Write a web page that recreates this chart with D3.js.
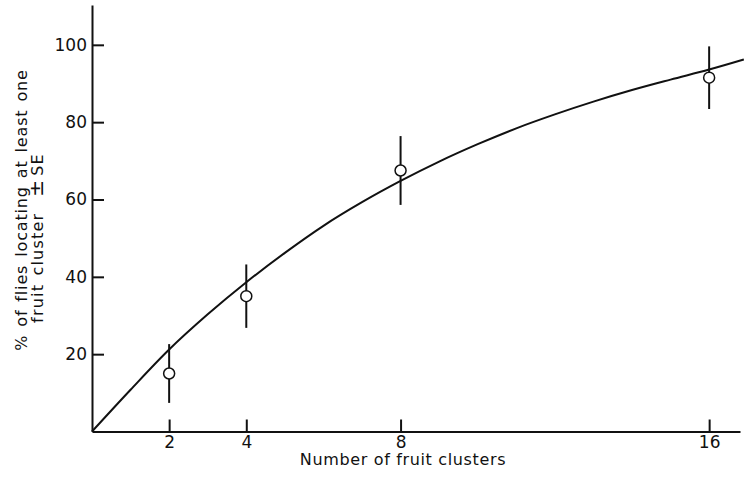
<!DOCTYPE html>
<html>
<head>
<meta charset="utf-8">
<script src="https://cdn.jsdelivr.net/npm/d3@7"></script>
<style>
  html, body { margin: 0; padding: 0; background: #fff; }
  svg { display: block; font-family: "DejaVu Sans", "Liberation Sans", Arial, sans-serif; }
  .axis text { font-size: 17px; fill: #111; font-family: "DejaVu Sans", sans-serif; }
  .axis path, .axis line { stroke: #111; stroke-width: 2; }
</style>
</head>
<body>
<svg id="chart" width="744" height="477"></svg>
<script>
// Number of fruit clusters offered and the mean % of flies finding one (± SE)
const clusters = [2, 4, 8, 16];
const pctFound = [15, 35, 67.5, 91.5];
const pctSE = [7.6, 8.2, 8.9, 8.1];

// Fitted response curve, sampled along the x range
const fitX = [0, 1, 2, 3, 4, 5, 6, 7, 8, 9, 10, 11, 12, 13, 14, 15, 16, 16.9];
const fitY = [0, 10.8, 21.2, 30.3, 38.6, 46.2, 53.2, 59.3, 64.8, 69.8, 74.3, 78.4, 82.0, 85.3, 88.3, 91.0, 93.6, 96.2];

const xTicks = [2, 4, 8, 16];
const yTicks = [20, 40, 60, 80, 100];

const svg = d3.select("#chart");

const x = d3.scaleLinear().domain([0, 16.8]).range([92, 740]);
const y = d3.scaleLinear().domain([0, 110.3]).range([431.5, 5]);

// Curve (clipped to the drawing area on the right)
svg.append("clipPath").attr("id", "plotclip")
  .append("rect").attr("x", 0).attr("y", 0).attr("width", 744).attr("height", 477);

const line = d3.line()
  .x((d, i) => x(fitX[i]))
  .y((d, i) => y(fitY[i]))
  .curve(d3.curveMonotoneX);

svg.append("path")
  .datum(fitX)
  .attr("clip-path", "url(#plotclip)")
  .attr("d", line)
  .attr("fill", "none")
  .attr("stroke", "#111")
  .attr("stroke-width", 2);

// Error bars
svg.append("g").selectAll("line")
  .data(clusters)
  .join("line")
  .attr("x1", d => x(d))
  .attr("x2", d => x(d))
  .attr("y1", (d, i) => y(pctFound[i] + pctSE[i]))
  .attr("y2", (d, i) => y(pctFound[i] - pctSE[i]))
  .attr("stroke", "#111")
  .attr("stroke-width", 2);

// Mean points
svg.append("g").selectAll("circle")
  .data(clusters)
  .join("circle")
  .attr("cx", d => x(d))
  .attr("cy", (d, i) => y(pctFound[i]))
  .attr("r", 5.5)
  .attr("fill", "#fff")
  .attr("stroke", "#111")
  .attr("stroke-width", 1.5);

// Axes, ticks pointing inward
svg.append("g")
  .attr("class", "axis")
  .attr("transform", `translate(0,${y(0)})`)
  .call(d3.axisBottom(x).tickValues(xTicks).tickSizeInner(-12).tickSizeOuter(0).tickPadding(4).tickFormat(d3.format("d")));

svg.append("g")
  .attr("class", "axis")
  .attr("transform", `translate(${x(0)},0)`)
  .call(d3.axisLeft(y).tickValues(yTicks).tickSizeInner(-12).tickSizeOuter(0).tickPadding(5).tickFormat(d3.format("d")));

// Axis titles
svg.append("text")
  .attr("x", 403)
  .attr("y", 465)
  .attr("text-anchor", "middle")
  .style("font-size", "16px")
  .style("letter-spacing", "0.65px")
  .attr("fill", "#111")
  .text("Number of fruit clusters");

const yTitle = svg.append("g").attr("transform", "rotate(-90)");
yTitle.append("text")
  .attr("x", -210)
  .attr("y", 27)
  .attr("text-anchor", "middle")
  .style("font-size", "16px")
  .style("letter-spacing", "0.85px")
  .style("word-spacing", "2px")
  .attr("fill", "#111")
  .text("% of flies locating at least one");

const line2 = yTitle.append("text")
  .attr("x", -238)
  .attr("y", 43)
  .attr("text-anchor", "middle")
  .style("font-size", "16px")
  .style("letter-spacing", "1.2px")
  .style("word-spacing", "2px")
  .attr("fill", "#111");
line2.append("tspan").text("fruit cluster");
line2.append("tspan").attr("dx", 16).style("font-size", "20px").text("±");
line2.append("tspan").attr("dx", 3).text("SE");
</script>
</body>
</html>
